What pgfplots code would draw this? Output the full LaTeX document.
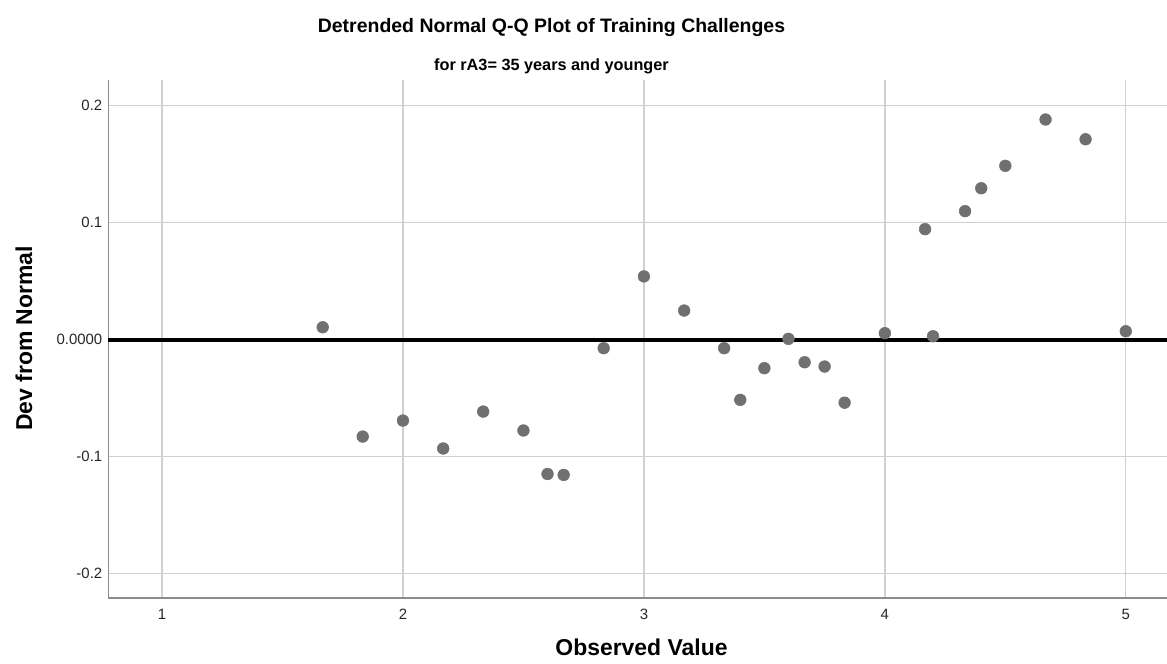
\documentclass[border=0pt]{standalone}
\usepackage{fontspec}
\setmainfont{Liberation Sans}
\usepackage{pgfplots}
\pgfplotsset{compat=1.18}
\definecolor{dotgray}{HTML}{707070}
\definecolor{gridgray}{HTML}{D0D0D0}
\definecolor{axisgray}{HTML}{8C8C8C}
\begin{document}
\begin{tikzpicture}
\path[use as bounding box] (-81.2pt,-48.75pt) rectangle (794pt,448.5pt);
\begin{axis}[
  at={(0pt,0pt)}, anchor=south west,
  scale only axis,
  width=794pt, height=388.5pt,
  xmin=0.777, xmax=5.171,
  ymin=-0.2211, ymax=0.222,
  axis lines*=left,
  axis line style={draw=axisgray, line width=1.1pt},
  xtick={1,2,3,4,5},
  xticklabels={1,2,3,4,5},
  ytick={-0.2,-0.1,0,0.1,0.2},
  yticklabels={-0.2,-0.1,0.0000,0.1,0.2},
  major tick length=0pt,
  tick style={draw=none},
  grid=major,
  major grid style={draw=gridgray, line width=1pt},
  ticklabel style={font=\fontsize{11.2pt}{13pt}\selectfont, text=black!85},
  xticklabel style={yshift=-5pt},
  yticklabel style={xshift=-1pt},
  clip=false,
]
\addplot[only marks, mark=*, mark size=4.4pt, mark options={draw=dotgray, fill=dotgray}] coordinates {
(1.667,0.0105)
(1.833,-0.083)
(2.0,-0.0693)
(2.167,-0.0932)
(2.333,-0.0616)
(2.5,-0.0778)
(2.6,-0.115)
(2.667,-0.1158)
(2.833,-0.0074)
(3.0,0.054)
(3.167,0.0248)
(3.333,-0.0074)
(3.4,-0.0516)
(3.5,-0.0245)
(3.6,0.0006)
(3.667,-0.0194)
(3.75,-0.0231)
(3.833,-0.054)
(4.0,0.0054)
(4.167,0.0944)
(4.2,0.0028)
(4.333,0.1098)
(4.4,0.1294)
(4.5,0.1486)
(4.667,0.1882)
(4.833,0.1713)
(5.0,0.0071)
};
\addplot[black, line width=3pt] coordinates {(0.777,0) (5.171,0)};
\end{axis}
\node[anchor=base, font=\bfseries\fontsize{14.6pt}{17pt}\selectfont] at (332.4pt,423.75pt) {Detrended Normal Q-Q Plot of Training Challenges};
\node[anchor=base, font=\bfseries\fontsize{12.2pt}{14pt}\selectfont] at (332.4pt,395.25pt) {for rA3= 35 years and younger};
\node[anchor=base, font=\bfseries\fontsize{17.2pt}{20pt}\selectfont] at (399.9pt,-42.75pt) {Observed Value};
\node[anchor=base, rotate=90, font=\bfseries\fontsize{17.2pt}{20pt}\selectfont] at (-57.2pt,194.6pt) {Dev from Normal};
\end{tikzpicture}
\end{document}
